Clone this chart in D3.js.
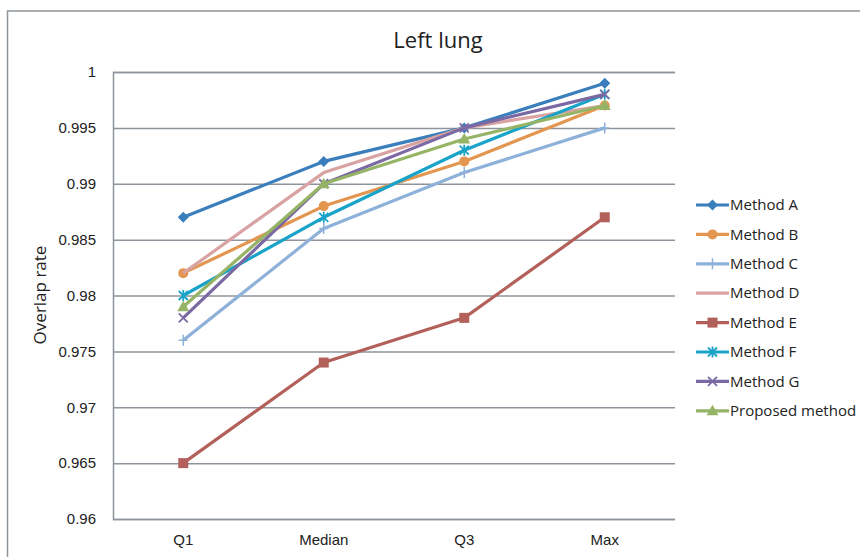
<!DOCTYPE html>
<html>
<head>
<meta charset="utf-8">
<script src="https://cdn.jsdelivr.net/npm/d3@7"></script>
<style>
  html, body { margin: 0; padding: 0; background: #fff; }
  svg { display: block; font-family: "Open Sans", "Noto Sans", "DejaVu Sans", sans-serif; }
</style>
</head>
<body>
<svg id="chart" width="860" height="557"></svg>
<script>
// Quartile summary of overlap rate (left lung) per method
const categories = ["Q1", "Median", "Q3", "Max"];
const methodA = [0.987, 0.992, 0.995, 0.999];
const methodB = [0.982, 0.988, 0.992, 0.997];
const methodC = [0.976, 0.986, 0.991, 0.995];
const methodD = [0.982, 0.991, 0.995, 0.997];
const methodE = [0.965, 0.974, 0.978, 0.987];
const methodF = [0.980, 0.987, 0.993, 0.998];
const methodG = [0.978, 0.990, 0.995, 0.998];
const proposed = [0.979, 0.990, 0.994, 0.997];
const yTicks = [0.96, 0.965, 0.97, 0.975, 0.98, 0.985, 0.99, 0.995, 1];

const series = [
  { name: "Method A", values: methodA, color: "#3a7fbc", marker: "diamond" },
  { name: "Method B", values: methodB, color: "#e3964f", marker: "circle" },
  { name: "Method C", values: methodC, color: "#8eb1da", marker: "plus" },
  { name: "Method D", values: methodD, color: "#d8a3a2", marker: "none" },
  { name: "Method E", values: methodE, color: "#b3605a", marker: "square" },
  { name: "Method F", values: methodF, color: "#1aa3c8", marker: "star" },
  { name: "Method G", values: methodG, color: "#7b69a3", marker: "x" },
  { name: "Proposed method", values: proposed, color: "#95b466", marker: "triangle" }
];

const svg = d3.select("#chart");
const margin = { left: 113, top: 72, right: 675, bottom: 519 };
const grid = "#8d949b";

// outer chart frame
svg.append("rect").attr("x", 7.5).attr("y", 11).attr("width", 900).attr("height", 600)
  .attr("fill", "none").attr("stroke", grid).attr("stroke-width", 1.5);

const x = d3.scaleBand().domain(categories).range([margin.left, margin.right]);
const y = d3.scaleLinear().domain([0.96, 1]).range([margin.bottom, margin.top]);
const cx = d => x(d) + x.bandwidth() / 2;

// horizontal gridlines + y labels
const yAxis = d3.axisLeft(y).tickValues(yTicks).tickSize(-(margin.right - margin.left))
  .tickPadding(17).tickFormat(d => d3.format("")(+d.toFixed(3)));
const ya = svg.append("g").attr("transform", `translate(${margin.left},0)`).call(yAxis);
ya.select(".domain").attr("stroke", grid).attr("stroke-width", 1.5);
ya.selectAll(".tick line").attr("stroke", grid).attr("stroke-width", 1.5);
ya.selectAll(".tick text").attr("fill", "#222").style("font-size", "15px");

// x axis labels
const xAxis = d3.axisBottom(x).tickSize(0).tickPadding(15);
const xa = svg.append("g").attr("transform", `translate(0,${margin.bottom})`).call(xAxis);
xa.select(".domain").remove();
xa.selectAll(".tick text").attr("fill", "#222").style("font-size", "15px");

// title and axis title
svg.append("text").attr("x", 438).attr("y", 48).attr("text-anchor", "middle")
  .attr("fill", "#222").style("font-size", "22px").text("Left lung");
svg.append("text").attr("transform", "translate(46,295) rotate(-90)")
  .attr("text-anchor", "middle").attr("fill", "#222").style("font-size", "17px").text("Overlap rate");

function drawMarker(g, type, color, px, py) {
  const s = 4.5;
  if (type === "diamond") {
    g.append("path").attr("d", `M${px},${py - 5.5}L${px + 5.5},${py}L${px},${py + 5.5}L${px - 5.5},${py}Z`).attr("fill", color);
  } else if (type === "circle") {
    g.append("circle").attr("cx", px).attr("cy", py).attr("r", 5).attr("fill", color);
  } else if (type === "square") {
    g.append("rect").attr("x", px - 5).attr("y", py - 5).attr("width", 10).attr("height", 10).attr("fill", color);
  } else if (type === "triangle") {
    g.append("path").attr("d", `M${px},${py - 6}L${px + 6},${py + 4.5}L${px - 6},${py + 4.5}Z`).attr("fill", color);
  } else if (type === "plus") {
    g.append("path").attr("d", `M${px - s},${py}H${px + s}M${px},${py - s - 1}V${py + s + 1}`)
      .attr("stroke", color).attr("stroke-width", 1.5).attr("fill", "none");
  } else if (type === "x") {
    g.append("path").attr("d", `M${px - s},${py - s}L${px + s},${py + s}M${px - s},${py + s}L${px + s},${py - s}`)
      .attr("stroke", color).attr("stroke-width", 1.8).attr("fill", "none");
  } else if (type === "star") {
    g.append("path").attr("d", `M${px - s},${py - s}L${px + s},${py + s}M${px - s},${py + s}L${px + s},${py - s}M${px},${py - s - 1}V${py + s + 1}`)
      .attr("stroke", color).attr("stroke-width", 1.8).attr("fill", "none");
  }
}

const line = d3.line().x((d, i) => cx(categories[i])).y(d => y(d));
series.forEach(s => {
  const g = svg.append("g");
  g.append("path").datum(s.values).attr("d", line).attr("fill", "none")
    .attr("stroke", s.color).attr("stroke-width", 3.2).attr("stroke-linejoin", "round");
  s.values.forEach((v, i) => drawMarker(g, s.marker, s.color, cx(categories[i]), y(v)));
});

// legend
const lg = svg.append("g");
series.forEach((s, i) => {
  const ly = 205 + i * 29.4;
  lg.append("line").attr("x1", 696).attr("x2", 729).attr("y1", ly).attr("y2", ly)
    .attr("stroke", s.color).attr("stroke-width", 3.2);
  drawMarker(lg, s.marker, s.color, 712.5, ly);
  lg.append("text").attr("x", 730).attr("y", ly).attr("dy", "0.35em")
    .attr("fill", "#222").style("font-size", "15px").text(s.name);
});
</script>
</body>
</html>
